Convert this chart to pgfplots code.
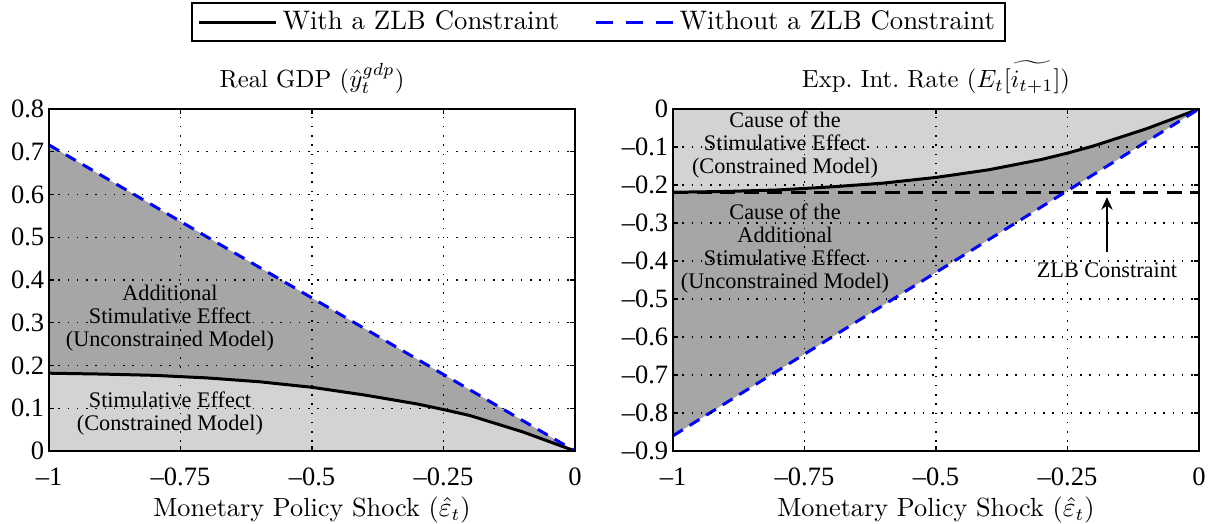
\documentclass[border=0pt]{standalone}
\usepackage{pgfplots}
\pgfplotsset{compat=1.18}
\usetikzlibrary{arrows.meta}
\usepackage{fontspec}
\newfontfamily\timesf{Liberation Serif}
\definecolor{lightfill}{RGB}{211,211,211}
\definecolor{darkfill}{RGB}{166,166,166}
\definecolor{mblue}{RGB}{0,0,255}

\pgfplotstableread{
x y
-1 0
-1 0.182
-0.9 0.180
-0.8 0.177
-0.7 0.171
-0.6 0.162
-0.5 0.149
-0.4 0.131
-0.3 0.110
-0.25 0.097
-0.2 0.083
-0.1 0.045
0 0
}\gdpfill
\pgfplotstableread{
x y
-1 0.182
-0.9 0.180
-0.8 0.177
-0.7 0.171
-0.6 0.162
-0.5 0.149
-0.4 0.131
-0.3 0.110
-0.25 0.097
-0.2 0.083
-0.1 0.045
0 0
}\gdpzlb
\pgfplotstableread{
x y
-1 0.716
0 0
}\gdpnozlb
\pgfplotstableread{
x y
-1 0
-1 -0.219
-0.9 -0.217
-0.8 -0.213
-0.7 -0.205
-0.6 -0.195
-0.5 -0.180
-0.4 -0.160
-0.3 -0.133
-0.25 -0.116
-0.2 -0.097
-0.1 -0.052
0 0
}\ratefill
\pgfplotstableread{
x y
-1 -0.219
-0.9 -0.217
-0.8 -0.213
-0.7 -0.205
-0.6 -0.195
-0.5 -0.180
-0.4 -0.160
-0.3 -0.133
-0.25 -0.116
-0.2 -0.097
-0.1 -0.052
0 0
}\ratezlb
\pgfplotstableread{
x y
-1 -0.86
0 0
}\ratenozlb

\pgfplotsset{
  myaxis/.style={
    scale only axis, width=210.4pt, height=136.8pt,
    xmin=-1, xmax=0,
    xtick={-1,-0.75,-0.5,-0.25,0},
    xticklabels={–1,–0.75,–0.5,–0.25,0},
    tick label style={font=\timesf\fontsize{10.6}{12}\selectfont},
    xticklabel style={anchor=base, yshift=-13.6pt},
    yticklabel style={xshift=1.6pt},
    grid=major,
    major grid style={black, line width=0.45pt, dash pattern=on 0.6pt off 3.1pt},
    tick align=inside, major tick length=2pt,
    tick style={black, line width=0.5pt},
    axis line style={black, line width=0.8pt},
    axis on top,
    title style={font=\fontsize{9.9}{12}\selectfont, at={(0.5,1)}, anchor=base, yshift=2.5pt},
    xlabel={Monetary Policy Shock ($\hat{\varepsilon}_t$)},
    xlabel style={font=\fontsize{10.5}{12}\selectfont, at={(axis description cs:0.5,0)}, anchor=base, yshift=-26pt},
  },
}
\tikzset{annot/.style={font=\timesf\fontsize{8.9}{9.2}\selectfont, align=center}}

\begin{document}
\begin{tikzpicture}
\begin{axis}[myaxis,
  at={(0pt,0pt)}, anchor=south west,
  ymin=0, ymax=0.8,
  ytick={0,0.1,0.2,0.3,0.4,0.5,0.6,0.7,0.8},
  yticklabels={0,0.1,0.2,0.3,0.4,0.5,0.6,0.7,0.8},
  title={Real GDP ($\hat{y}_t^{gdp}$)},
  legend style={at={(1.0447,1.2544)}, anchor=center, legend columns=2,
    draw=black, line width=0.8pt, font=\fontsize{10.7}{12}\selectfont,
    inner xsep=2pt, inner ysep=1pt,
    /tikz/every even column/.append style={column sep=12pt}},
  legend cell align=left,
  legend image code/.code={\draw[#1] (0pt,0pt) -- (31pt,0pt);},
]
\addplot[fill=darkfill, draw=none, forget plot] coordinates {(-1,0) (-1,0.716) (0,0)};
\addplot[fill=lightfill, draw=none, forget plot] table[x=x,y=y] {\gdpfill};
\addplot[black, line width=1.2pt, forget plot] table[x=x,y=y] {\gdpzlb};
\addplot[mblue, line width=1.2pt, dash pattern=on 4.6pt off 3.2pt, forget plot] table[x=x,y=y] {\gdpnozlb};
\addlegendimage{black, line width=1.2pt}
\addlegendentry{With a ZLB Constraint}
\addlegendimage{mblue, line width=1.2pt, dash pattern=on 7pt off 5pt}
\addlegendentry{Without a ZLB Constraint}
\node[annot] at (axis cs:-0.77,0.311) {Additional\\Stimulative Effect\\(Unconstrained Model)};
\node[annot] at (axis cs:-0.77,0.088) {Stimulative Effect\\(Constrained Model)};
\end{axis}

\begin{axis}[myaxis,
  at={(249.6pt,0pt)}, anchor=south west,
  ymin=-0.9, ymax=0,
  ytick={-0.9,-0.8,-0.7,-0.6,-0.5,-0.4,-0.3,-0.2,-0.1,0},
  yticklabels={–0.9,–0.8,–0.7,–0.6,–0.5,–0.4,–0.3,–0.2,–0.1,0},
  title={Exp.\ Int.\ Rate ($E_t\widetilde{[i_{t+1}]}$)},
]
\addplot[fill=darkfill, draw=none] coordinates {(-1,0) (-1,-0.86) (0,0)};
\addplot[fill=lightfill, draw=none] table[x=x,y=y] {\ratefill};
\addplot[black, line width=1.2pt, dash pattern=on 6pt off 3.4pt] coordinates {(-1,-0.221) (0,-0.221)};
\addplot[black, line width=1.2pt] table[x=x,y=y] {\ratezlb};
\addplot[mblue, line width=1.2pt, dash pattern=on 4.6pt off 3.2pt] table[x=x,y=y] {\ratenozlb};
\draw[-{Stealth[length=5pt,width=4.5pt]}, line width=1pt] (axis cs:-0.175,-0.376) -- (axis cs:-0.175,-0.232);
\node[annot] at (axis cs:-0.175,-0.425) {ZLB Constraint};
\node[annot] at (axis cs:-0.787,-0.096) {Cause of the\\Stimulative Effect\\(Constrained Model)};
\node[annot] at (axis cs:-0.787,-0.367) {Cause of the\\Additional\\Stimulative Effect\\(Unconstrained Model)};
\end{axis}
\pgfresetboundingbox
\useasboundingbox (-19.6pt,-28.8pt) rectangle (464.8pt,180.4pt);
\end{tikzpicture}
\end{document}
